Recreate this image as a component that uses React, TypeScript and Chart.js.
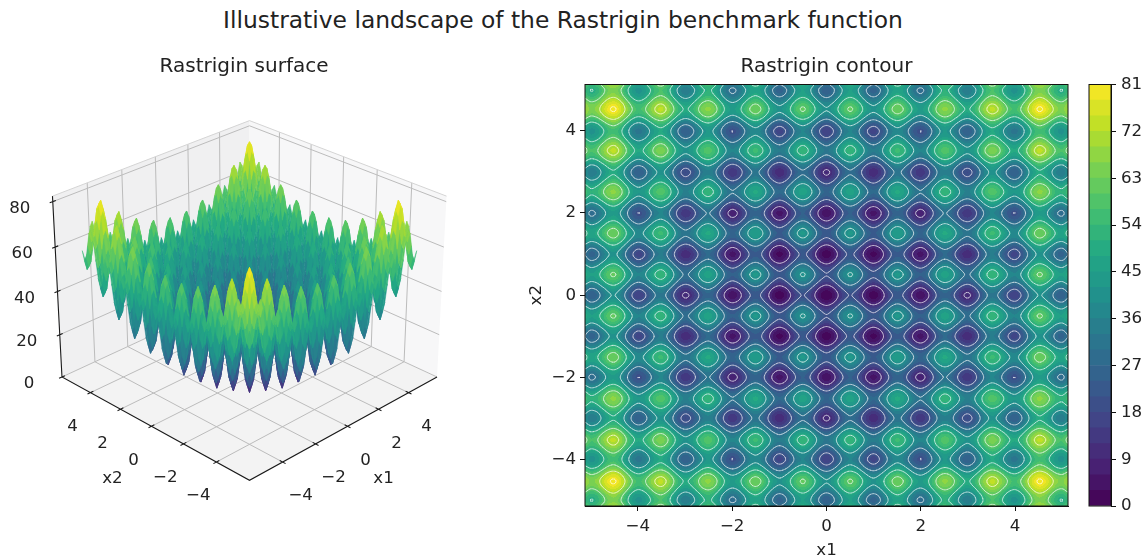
import React, { useEffect, useRef } from "react";
import { Chart, registerables } from "chart.js";

Chart.register(...registerables);

const FONT = '"DejaVu Sans"';
const INK = "#222222";
const TICK_PX = 16.67;
const TITLE_PX = 20;

const suptitle = "Illustrative landscape of the Rastrigin benchmark function";
const surfaceTitle = "Rastrigin surface";
const contourTitle = "Rastrigin contour";

const x1Ticks3d = [-4, -2, 0, 2, 4];
const x2Ticks3d = [-4, -2, 0, 2, 4];
const zTicks3d = [0, 20, 40, 60, 80];
const contourXTicks = [-4, -2, 0, 2, 4];
const contourYTicks = [-4, -2, 0, 2, 4];
const colorbarTicks = [0, 9, 18, 27, 36, 45, 54, 63, 72, 81];
const bandLevels = [0, 3, 6, 9, 12, 15, 18, 21, 24, 27, 30, 33, 36, 39, 42, 45, 48, 51, 54, 57, 60, 63, 66, 69, 72, 75, 78, 81];
const lineLevels = [10, 20, 30, 40, 50, 60, 70, 80];
const viridisStops = ["#440154", "#482475", "#414487", "#355f8d", "#2a788e", "#21918c", "#22a884", "#44bf70", "#7ad151", "#bddf26", "#fde725"];

const gridStep = 0.125;
// Heights read off the landscape for x1, x2 >= 0 at gridStep spacing. The picture mirrors in
// both axes and across the diagonal, so row k lists columns k, k+1, ...
const heightRows: number[][] = [
  [0,3,10.1,17.2,20.3,17.5,10.6,3.7,1,4.2,11.6,19,22.3,19.7,13.1,6.5,4,7.5,15.1,22.7,26.3,24,17.6,11.2,9,12.7,20.6,28.5,32.3,30.2,24.1,18,16,20,28.1,36.2,40.3,38.5,32.6,26.7,25,29.2],
  [6,13.1,20.2,23.3,20.5,13.6,6.7,4,7.2,14.6,22,25.3,22.7,16.1,9.5,7,10.5,18.1,25.7,29.3,27,20.6,14.2,12,15.7,23.6,31.5,35.3,33.2,27.1,21,19,23,31.1,39.2,43.3,41.5,35.6,29.7,28,32.2],
  [20.2,27.3,30.4,27.6,20.7,13.8,11.1,14.3,21.7,29.1,32.4,29.8,23.2,16.6,14.1,17.6,25.2,32.8,36.4,34.1,27.7,21.3,19.1,22.8,30.7,38.6,42.4,40.3,34.2,28.1,26.1,30.1,38.2,46.3,50.4,48.6,42.7,36.8,35.1,39.3],
  [34.4,37.5,34.7,27.8,20.9,18.2,21.4,28.8,36.2,39.5,36.9,30.3,23.7,21.2,24.7,32.3,39.9,43.5,41.2,34.8,28.4,26.2,29.9,37.8,45.7,49.5,47.4,41.3,35.2,33.2,37.2,45.3,53.4,57.5,55.7,49.8,43.9,42.2,46.4],
  [40.6,37.8,30.9,24,21.3,24.5,31.9,39.3,42.6,40,33.4,26.8,24.3,27.8,35.4,43,46.6,44.3,37.9,31.5,29.3,33,40.9,48.8,52.6,50.5,44.4,38.3,36.3,40.3,48.4,56.5,60.6,58.8,52.9,47,45.3,49.5],
  [35,28.1,21.2,18.5,21.7,29.1,36.5,39.8,37.2,30.6,24,21.5,25,32.6,40.2,43.8,41.5,35.1,28.7,26.5,30.2,38.1,46,49.8,47.7,41.6,35.5,33.5,37.5,45.6,53.7,57.8,56,50.1,44.2,42.5,46.7],
  [21.2,14.3,11.6,14.8,22.2,29.6,32.9,30.3,23.7,17.1,14.6,18.1,25.7,33.3,36.9,34.6,28.2,21.8,19.6,23.3,31.2,39.1,42.9,40.8,34.7,28.6,26.6,30.6,38.7,46.8,50.9,49.1,43.2,37.3,35.6,39.8],
  [7.4,4.7,7.9,15.3,22.7,26,23.4,16.8,10.2,7.7,11.2,18.8,26.4,30,27.7,21.3,14.9,12.7,16.4,24.3,32.2,36,33.9,27.8,21.7,19.7,23.7,31.8,39.9,44,42.2,36.3,30.4,28.7,32.9],
  [2,5.2,12.6,20,23.3,20.7,14.1,7.5,5,8.5,16.1,23.7,27.3,25,18.6,12.2,10,13.7,21.6,29.5,33.3,31.2,25.1,19,17,21,29.1,37.2,41.3,39.5,33.6,27.7,26,30.2],
  [8.4,15.8,23.2,26.5,23.9,17.3,10.7,8.2,11.7,19.3,26.9,30.5,28.2,21.8,15.4,13.2,16.9,24.8,32.7,36.5,34.4,28.3,22.2,20.2,24.2,32.3,40.4,44.5,42.7,36.8,30.9,29.2,33.4],
  [23.2,30.6,33.9,31.3,24.7,18.1,15.6,19.1,26.7,34.3,37.9,35.6,29.2,22.8,20.6,24.3,32.2,40.1,43.9,41.8,35.7,29.6,27.6,31.6,39.7,47.8,51.9,50.1,44.2,38.3,36.6,40.8],
  [38,41.3,38.7,32.1,25.5,23,26.5,34.1,41.7,45.3,43,36.6,30.2,28,31.7,39.6,47.5,51.3,49.2,43.1,37,35,39,47.1,55.2,59.3,57.5,51.6,45.7,44,48.2],
  [44.6,42,35.4,28.8,26.3,29.8,37.4,45,48.6,46.3,39.9,33.5,31.3,35,42.9,50.8,54.6,52.5,46.4,40.3,38.3,42.3,50.4,58.5,62.6,60.8,54.9,49,47.3,51.5],
  [39.4,32.8,26.2,23.7,27.2,34.8,42.4,46,43.7,37.3,30.9,28.7,32.4,40.3,48.2,52,49.9,43.8,37.7,35.7,39.7,47.8,55.9,60,58.2,52.3,46.4,44.7,48.9],
  [26.2,19.6,17.1,20.6,28.2,35.8,39.4,37.1,30.7,24.3,22.1,25.8,33.7,41.6,45.4,43.3,37.2,31.1,29.1,33.1,41.2,49.3,53.4,51.6,45.7,39.8,38.1,42.3],
  [13,10.5,14,21.6,29.2,32.8,30.5,24.1,17.7,15.5,19.2,27.1,35,38.8,36.7,30.6,24.5,22.5,26.5,34.6,42.7,46.8,45,39.1,33.2,31.5,35.7],
  [8,11.5,19.1,26.7,30.3,28,21.6,15.2,13,16.7,24.6,32.5,36.3,34.2,28.1,22,20,24,32.1,40.2,44.3,42.5,36.6,30.7,29,33.2],
  [15,22.6,30.2,33.8,31.5,25.1,18.7,16.5,20.2,28.1,36,39.8,37.7,31.6,25.5,23.5,27.5,35.6,43.7,47.8,46,40.1,34.2,32.5,36.7],
  [30.2,37.8,41.4,39.1,32.7,26.3,24.1,27.8,35.7,43.6,47.4,45.3,39.2,33.1,31.1,35.1,43.2,51.3,55.4,53.6,47.7,41.8,40.1,44.3],
  [45.4,49,46.7,40.3,33.9,31.7,35.4,43.3,51.2,55,52.9,46.8,40.7,38.7,42.7,50.8,58.9,63,61.2,55.3,49.4,47.7,51.9],
  [52.6,50.3,43.9,37.5,35.3,39,46.9,54.8,58.6,56.5,50.4,44.3,42.3,46.3,54.4,62.5,66.6,64.8,58.9,53,51.3,55.5],
  [48,41.6,35.2,33,36.7,44.6,52.5,56.3,54.2,48.1,42,40,44,52.1,60.2,64.3,62.5,56.6,50.7,49,53.2],
  [35.2,28.8,26.6,30.3,38.2,46.1,49.9,47.8,41.7,35.6,33.6,37.6,45.7,53.8,57.9,56.1,50.2,44.3,42.6,46.8],
  [22.4,20.2,23.9,31.8,39.7,43.5,41.4,35.3,29.2,27.2,31.2,39.3,47.4,51.5,49.7,43.8,37.9,36.2,40.4],
  [18,21.7,29.6,37.5,41.3,39.2,33.1,27,25,29,37.1,45.2,49.3,47.5,41.6,35.7,34,38.2],
  [25.4,33.3,41.2,45,42.9,36.8,30.7,28.7,32.7,40.8,48.9,53,51.2,45.3,39.4,37.7,41.9],
  [41.2,49.1,52.9,50.8,44.7,38.6,36.6,40.6,48.7,56.8,60.9,59.1,53.2,47.3,45.6,49.8],
  [57,60.8,58.7,52.6,46.5,44.5,48.5,56.6,64.7,68.8,67,61.1,55.2,53.5,57.7],
  [64.6,62.5,56.4,50.3,48.3,52.3,60.4,68.5,72.6,70.8,64.9,59,57.3,61.5],
  [60.4,54.3,48.2,46.2,50.2,58.3,66.4,70.5,68.7,62.8,56.9,55.2,59.4],
  [48.2,42.1,40.1,44.1,52.2,60.3,64.4,62.6,56.7,50.8,49.1,53.3],
  [36,34,38,46.1,54.2,58.3,56.5,50.6,44.7,43,47.2],
  [32,36,44.1,52.2,56.3,54.5,48.6,42.7,41,45.2],
  [40,48.1,56.2,60.3,58.5,52.6,46.7,45,49.2],
  [56.2,64.3,68.4,66.6,60.7,54.8,53.1,57.3],
  [72.4,76.5,74.7,68.8,62.9,61.2,65.4],
  [80.6,78.8,72.9,67,65.3,69.5],
  [77,71.1,65.2,63.5,67.7],
  [65.2,59.3,57.6,61.8],
  [53.4,51.7,55.9],
  [50,54.2],
  [58.4],
];

const gridHalf = heightRows.length - 1;
const heightAt = (i: number, j: number) => {
  const a = Math.min(gridHalf, Math.abs(i));
  const b = Math.min(gridHalf, Math.abs(j));
  return a <= b ? heightRows[a][b - a] : heightRows[b][a - b];
};

const hexRgb = (h: string) => [1, 3, 5].map((k) => parseInt(h.slice(k, k + 2), 16));
const viridisRgb = viridisStops.map(hexRgb);
const viridis = (t: number) => {
  const p = Math.max(0, Math.min(1, t)) * (viridisRgb.length - 1);
  const k = Math.min(viridisRgb.length - 2, Math.floor(p));
  const f = p - k;
  return viridisRgb[k].map((c, n) => Math.round(c + (viridisRgb[k + 1][n] - c) * f));
};
const css = (c: number[]) => `rgb(${c[0]},${c[1]},${c[2]})`;

// ---- 3D view (camera of a matplotlib mplot3d axes) ----
const ELEV = (27.5 * Math.PI) / 180;
const AZIM = (225 * Math.PI) / 180;
const DIST = 8;
const BOX = [1.143, 1.143, 0.857];
const XLIM = [-5.95, 5.95];
const YLIM = [-5.95, 5.95];
const ZLIM = [0, 82.4];
const w3 = [Math.cos(ELEV) * Math.cos(AZIM), Math.cos(ELEV) * Math.sin(AZIM), Math.sin(ELEV)];
const u3 = [-Math.sin(AZIM), Math.cos(AZIM), 0];
const v3 = [
  w3[1] * u3[2] - w3[2] * u3[1],
  w3[2] * u3[0] - w3[0] * u3[2],
  w3[0] * u3[1] - w3[1] * u3[0],
];
const dot = (a: number[], b: number[]) => a[0] * b[0] + a[1] * b[1] + a[2] * b[2];
const view = (x: number, y: number, z: number) => {
  const V = [
    ((x - XLIM[0]) / (XLIM[1] - XLIM[0]) - 0.5) * BOX[0],
    ((y - YLIM[0]) / (YLIM[1] - YLIM[0]) - 0.5) * BOX[1],
    ((z - ZLIM[0]) / (ZLIM[1] - ZLIM[0]) - 0.5) * BOX[2],
  ];
  const d = DIST - dot(w3, V);
  return { x: dot(u3, V) / d, y: dot(v3, V) / d, d };
};

// page placement of the view plane
const PX_PER_UNIT = 1902;
const VIEW_CX = 249.5;
const VIEW_CY = 288.8;
const L_LEFT = 0;
const L_TOP = 57;
const L_W = 488;
const L_H = 463;

const TICK_HALF = 0.17;

const gap = { x: NaN, y: NaN };
const seg = (...pts: number[][]) => [...pts.map((p) => view(p[0], p[1], p[2])), gap];

const gridSegments = () => {
  const out: any[] = [];
  const [x0, x1] = XLIM;
  const [y0, y1] = YLIM;
  const [z0, z1] = ZLIM;
  x1Ticks3d.forEach((t) => out.push(...seg([t, y0, z0], [t, y1, z0], [t, y1, z1])));
  x2Ticks3d.forEach((t) => out.push(...seg([x0, t, z0], [x1, t, z0], [x1, t, z1])));
  zTicks3d.forEach((t) => out.push(...seg([x0, y1, t], [x1, y1, t], [x1, y0, t])));
  return out;
};
const axisSegments = () => {
  const out: any[] = [];
  const [x0, x1] = XLIM;
  const [y0, y1] = YLIM;
  const [z0, z1] = ZLIM;
  out.push(...seg([x1, y0, z0], [x0, y0, z0], [x0, y1, z0], [x0, y1, z1]));
  x1Ticks3d.forEach((t) => out.push(...seg([t, y0 - TICK_HALF, z0], [t, y0 + TICK_HALF, z0])));
  x2Ticks3d.forEach((t) => out.push(...seg([x0 - TICK_HALF, t, z0], [x0 + TICK_HALF, t, z0])));
  zTicks3d.forEach((t) => out.push(...seg([x0 - TICK_HALF, y1, t], [x0 + TICK_HALF, y1, t])));
  return out;
};
const edgeSegments = () => {
  const [x0, x1] = XLIM;
  const [y0, y1] = YLIM;
  const [, z1] = ZLIM;
  return seg([x0, y1, z1], [x1, y1, z1], [x1, y0, z1]);
};

const surfacePlugin = {
  id: "surface3d",
  beforeDatasetsDraw(chart: any) {
    const { ctx, scales } = chart;
    const px = (p: any) => [scales.x.getPixelForValue(p.x), scales.y.getPixelForValue(p.y)];
    const [x0, x1] = XLIM;
    const [y0, y1] = YLIM;
    const [z0, z1] = ZLIM;
    const panes: [string, number[][]][] = [
      ["#f3f3f3", [[x0, y0, z0], [x1, y0, z0], [x1, y1, z0], [x0, y1, z0]]],
      ["#f0f0f1", [[x0, y1, z0], [x1, y1, z0], [x1, y1, z1], [x0, y1, z1]]],
      ["#f7f7f8", [[x1, y0, z0], [x1, y1, z0], [x1, y1, z1], [x1, y0, z1]]],
    ];
    ctx.save();
    panes.forEach(([color, pts]) => {
      ctx.beginPath();
      pts.forEach((p, n) => {
        const [a, b] = px(view(p[0], p[1], p[2]));
        if (n) ctx.lineTo(a, b);
        else ctx.moveTo(a, b);
      });
      ctx.closePath();
      ctx.fillStyle = color;
      ctx.fill();
    });
    ctx.restore();
  },
  afterDatasetsDraw(chart: any) {
    const { ctx, scales, width, height } = chart;
    const px = (p: any) => [scales.x.getPixelForValue(p.x), scales.y.getPixelForValue(p.y)];
    const quads: { d: number; z: number; pts: number[][] }[] = [];
    for (let i = -gridHalf; i < gridHalf; i++) {
      for (let j = -gridHalf; j < gridHalf; j++) {
        const corners = [[i, j], [i + 1, j], [i + 1, j + 1], [i, j + 1]];
        let d = 0;
        let z = 0;
        const pts = corners.map(([a, b]) => {
          const h = heightAt(a, b);
          const p = view(a * gridStep, b * gridStep, h);
          d += p.d;
          z += h;
          return px(p);
        });
        quads.push({ d, z: z / 4, pts });
      }
    }
    quads.sort((a, b) => b.d - a.d);
    const off = document.createElement("canvas");
    off.width = width;
    off.height = height;
    const oc = off.getContext("2d")!;
    oc.lineWidth = 0.5;
    oc.lineJoin = "round";
    quads.forEach((q) => {
      const c = css(viridis(q.z / 80.6));
      oc.beginPath();
      q.pts.forEach((p, n) => (n ? oc.lineTo(p[0], p[1]) : oc.moveTo(p[0], p[1])));
      oc.closePath();
      oc.fillStyle = c;
      oc.strokeStyle = c;
      oc.fill();
      oc.stroke();
    });
    ctx.save();
    ctx.filter = "blur(0.5px)";
    ctx.drawImage(off, 0, 0);
    ctx.filter = "none";
    // tick and axis labels of the 3D box
    ctx.fillStyle = INK;
    ctx.font = `${TICK_PX}px ${FONT}`;
    ctx.textAlign = "center";
    ctx.textBaseline = "middle";
    const label = (text: string, p: any, dx: number, dy: number) => {
      const [a, b] = px(p);
      ctx.fillText(text, a + dx, b + dy);
    };
    const fmt = (t: number) => (t < 0 ? `\u2212${-t}` : `${t}`);
    x1Ticks3d.forEach((t) => label(fmt(t), view(t, YLIM[0], ZLIM[0]), 18, 34));
    x2Ticks3d.forEach((t) => label(fmt(t), view(XLIM[0], t, ZLIM[0]), -18, 34));
    zTicks3d.forEach((t) => label(fmt(t), view(XLIM[0], YLIM[1], t), -33, 7));
    label("x1", view(0, YLIM[0], ZLIM[0]), 36, 52);
    label("x2", view(XLIM[0], 0, ZLIM[0]), -39, 52);
    ctx.restore();
  },
};

// ---- contour panel ----
const bandColors = bandLevels.slice(0, -1).map((lo, n) => viridis((lo + bandLevels[n + 1]) / 2 / bandLevels[bandLevels.length - 1]));

// smooth rendering of the table between its grid nodes, like a curve's tension between points
const crWeights = (t: number) => [
  -0.5 * t + t * t - 0.5 * t * t * t,
  1 - 2.5 * t * t + 1.5 * t * t * t,
  0.5 * t + 2 * t * t - 1.5 * t * t * t,
  -0.5 * t * t + 0.5 * t * t * t,
];
const sampleHeight = (u: number, v: number) => {
  const i = Math.floor(u);
  const j = Math.floor(v);
  const wu = crWeights(u - i);
  const wv = crWeights(v - j);
  let s = 0;
  for (let a = 0; a < 4; a++) {
    for (let b = 0; b < 4; b++) {
      s += wu[a] * wv[b] * heightAt(i + a - 1, j + b - 1);
    }
  }
  return s;
};

const contourPlugin = {
  id: "filledContour",
  beforeDatasetsDraw(chart: any) {
    const { ctx, chartArea: a, scales } = chart;
    const left = Math.round(a.left);
    const top = Math.round(a.top);
    const w = Math.round(a.right) - left;
    const h = Math.round(a.bottom) - top;
    const off = document.createElement("canvas");
    off.width = w;
    off.height = h;
    const oc = off.getContext("2d")!;
    const img = oc.createImageData(w, h);
    const step = bandLevels[1] - bandLevels[0];
    for (let r = 0; r < h; r++) {
      const v = scales.y.getValueForPixel(top + r + 0.5) / gridStep;
      for (let c = 0; c < w; c++) {
        const u = scales.x.getValueForPixel(left + c + 0.5) / gridStep;
        const val = sampleHeight(u, v);
        const band = bandColors[Math.max(0, Math.min(bandColors.length - 1, Math.floor(val / step)))];
        const o = (r * w + c) * 4;
        img.data[o] = band[0];
        img.data[o + 1] = band[1];
        img.data[o + 2] = band[2];
        img.data[o + 3] = 255;
      }
    }
    oc.putImageData(img, 0, 0);

    // iso-lines on a fine lattice over the table
    const sub = 4;
    const n = 2 * gridHalf * sub + 1;
    const field = new Float32Array(n * n);
    for (let p = 0; p < n; p++) {
      for (let q = 0; q < n; q++) {
        field[p * n + q] = sampleHeight(p / sub - gridHalf, q / sub - gridHalf);
      }
    }
    const X = (p: number) => scales.x.getPixelForValue((p / sub - gridHalf) * gridStep) - left;
    const Y = (q: number) => scales.y.getPixelForValue((q / sub - gridHalf) * gridStep) - top;
    oc.strokeStyle = "rgba(255,255,255,0.45)";
    oc.lineWidth = 1;
    oc.lineCap = "round";
    lineLevels.forEach((lv) => {
      oc.beginPath();
      for (let p = 0; p < n - 1; p++) {
        for (let q2 = 0; q2 < n - 1; q2++) {
          const vals = [field[p * n + q2], field[(p + 1) * n + q2], field[(p + 1) * n + q2 + 1], field[p * n + q2 + 1]];
          const pos = [[p, q2], [p + 1, q2], [p + 1, q2 + 1], [p, q2 + 1]];
          const hits: number[][] = [];
          for (let e = 0; e < 4; e++) {
            const m = (e + 1) % 4;
            if (vals[e] >= lv !== vals[m] >= lv) {
              const t = (lv - vals[e]) / (vals[m] - vals[e]);
              hits.push([X(pos[e][0] + (pos[m][0] - pos[e][0]) * t), Y(pos[e][1] + (pos[m][1] - pos[e][1]) * t)]);
            }
          }
          for (let k = 0; k + 1 < hits.length; k += 2) {
            oc.moveTo(hits[k][0], hits[k][1]);
            oc.lineTo(hits[k + 1][0], hits[k + 1][1]);
          }
        }
      }
      oc.stroke();
    });

    ctx.save();
    ctx.beginPath();
    ctx.rect(a.left, a.top, a.right - a.left, a.bottom - a.top);
    ctx.clip();
    ctx.drawImage(off, left, top);
    ctx.filter = "blur(0.6px)";
    ctx.drawImage(off, left, top);
    ctx.restore();
  },
};

const framePlugin = {
  id: "frame",
  afterDraw(chart: any) {
    const { ctx, chartArea: a } = chart;
    ctx.save();
    ctx.strokeStyle = "#111";
    ctx.lineWidth = 1;
    ctx.strokeRect(a.left, a.top, a.right - a.left, a.bottom - a.top);
    ctx.restore();
  },
};

const minus = (v: any) => (Number(v) < 0 ? `\u2212${-Number(v)}` : `${v}`);

const titleOpts = (text: string, bottom: number, fullSize: boolean) => ({
  display: true,
  text,
  color: INK,
  fullSize,
  padding: { top: 0, bottom },
  font: { family: FONT, size: TITLE_PX, weight: "normal" as const, lineHeight: 1 },
});

const tickFont = { family: FONT, size: TICK_PX };

export default function App() {
  const leftRef = useRef<HTMLCanvasElement>(null);
  const rightRef = useRef<HTMLCanvasElement>(null);
  const barRef = useRef<HTMLCanvasElement>(null);

  useEffect(() => {
    const lineDs = (data: any[], color: string, width: number) => ({
      data,
      showLine: true,
      spanGaps: false,
      borderColor: color,
      borderWidth: width,
      pointRadius: 0,
      tension: 0,
    });
    const chartTop = L_TOP + TITLE_PX;
    const chartBottom = L_TOP + L_H;

    const left = new Chart(leftRef.current!, {
      type: "scatter",
      data: {
        datasets: [
          lineDs(axisSegments(), "#1a1a1a", 1.1),
          lineDs(edgeSegments(), "#d4d4d4", 1),
          lineDs(gridSegments(), "#bcbcbc", 1),
        ],
      },
      options: {
        animation: false,
        responsive: false,
        events: [],
        layout: { padding: 0 },
        plugins: { legend: { display: false }, tooltip: { enabled: false }, title: titleOpts(surfaceTitle, 0, true) },
        scales: {
          x: { type: "linear", display: false, min: (L_LEFT - VIEW_CX) / PX_PER_UNIT, max: (L_LEFT + L_W - VIEW_CX) / PX_PER_UNIT },
          y: { type: "linear", display: false, min: (VIEW_CY - chartBottom) / PX_PER_UNIT, max: (VIEW_CY - chartTop) / PX_PER_UNIT },
        },
      },
      plugins: [surfacePlugin],
    } as any);

    const axisCommon = {
      type: "linear",
      min: -5.12,
      max: 5.12,
      border: { display: true, color: "#111", width: 1 },
      grid: { drawOnChartArea: false, drawTicks: true, tickLength: 5, tickColor: "#111", tickWidth: 1 },
    };
    const right = new Chart(rightRef.current!, {
      type: "scatter",
      data: { datasets: [] },
      options: {
        animation: false,
        responsive: false,
        events: [],
        layout: { padding: { right: 2 } },
        plugins: { legend: { display: false }, tooltip: { enabled: false }, title: titleOpts(contourTitle, 7.5, false) },
        scales: {
          x: {
            ...axisCommon,
            afterBuildTicks: (s: any) => { s.ticks = contourXTicks.map((value) => ({ value })); },
            afterFit: (s: any) => { s.height = 55; },
            ticks: { color: INK, font: tickFont, padding: 6, maxRotation: 0, autoSkip: false, callback: minus },
            title: { display: true, text: "x1", color: INK, font: tickFont, padding: { top: 0, bottom: 0 } },
          },
          y: {
            ...axisCommon,
            afterBuildTicks: (s: any) => { s.ticks = contourYTicks.map((value) => ({ value })); },
            afterFit: (s: any) => { s.width = 65; },
            ticks: { color: INK, font: tickFont, padding: 4, autoSkip: false, callback: minus },
            title: { display: true, text: "x2", color: INK, font: tickFont, padding: { top: 7, bottom: 0 } },
          },
        },
      },
      plugins: [contourPlugin, framePlugin],
    } as any);

    const bar = new Chart(barRef.current!, {
      type: "bar",
      data: {
        labels: [""],
        datasets: bandLevels.slice(0, -1).map((lo, n) => ({
          data: [[lo, bandLevels[n + 1]]],
          backgroundColor: css(bandColors[n]),
          borderWidth: 0,
          grouped: false,
          barPercentage: 1,
          categoryPercentage: 1,
        })),
      },
      options: {
        animation: false,
        responsive: false,
        events: [],
        layout: { padding: { left: 9, top: 10.5, bottom: 12 } },
        plugins: { legend: { display: false }, tooltip: { enabled: false } },
        scales: {
          x: { display: false },
          y: {
            position: "right",
            min: 0,
            max: 81,
            border: { display: true, color: "#111", width: 1 },
            afterBuildTicks: (s: any) => { s.ticks = colorbarTicks.map((value) => ({ value })); },
            afterFit: (s: any) => { s.width = 37; s.paddingTop = 0; s.paddingBottom = 0; },
            grid: { drawOnChartArea: false, drawTicks: true, tickLength: 5, tickColor: "#111", tickWidth: 1 },
            ticks: { color: INK, font: tickFont, padding: 5, autoSkip: false },
          },
        },
      },
      plugins: [framePlugin],
    } as any);

    return () => {
      left.destroy();
      right.destroy();
      bar.destroy();
    };
  }, []);

  const box = (l: number, t: number): React.CSSProperties => ({ position: "absolute", left: l, top: t });
  return (
    <div style={{ position: "absolute", left: 0, top: 0, width: 1148, height: 558, overflow: "hidden", background: "#fff" }}>
      <div
        style={{
          position: "absolute",
          left: 0,
          top: 8,
          width: 1126,
          textAlign: "center",
          font: `23.4px/24px ${FONT}`,
          color: INK,
          whiteSpace: "nowrap",
        }}
      >
        {suptitle}
      </div>
      <div style={box(L_LEFT, L_TOP)}>
        <canvas ref={leftRef} width={L_W} height={L_H} />
      </div>
      <div style={box(520, 57)}>
        <canvas ref={rightRef} width={550} height={504} />
      </div>
      <div style={box(1080, 74)}>
        <canvas ref={barRef} width={68} height={444} />
      </div>
    </div>
  );
}
